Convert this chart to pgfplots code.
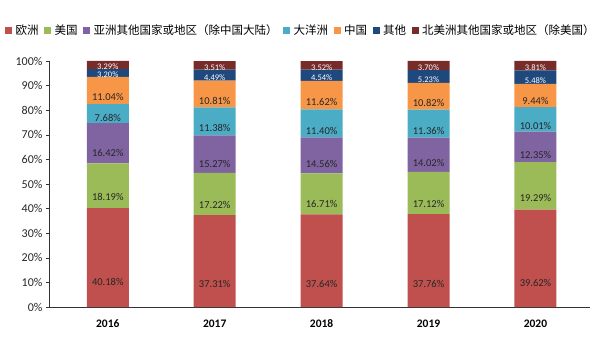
\documentclass[border=0pt]{standalone}
\usepackage{fontspec}
\setmainfont{Carlito}
\newfontfamily\cjk{Noto Sans CJK SC}
\usepackage{pgfplots}
\usepackage{pgfplotstable}
\pgfplotsset{compat=1.18}
\definecolor{cEU}{HTML}{C0504D}
\definecolor{cUS}{HTML}{9BBB59}
\definecolor{cAS}{HTML}{8064A2}
\definecolor{cOC}{HTML}{4BACC6}
\definecolor{cCN}{HTML}{F79646}
\definecolor{cOT}{HTML}{1F497D}
\definecolor{cNA}{HTML}{772C2A}
\pgfplotstableread{
x eu us as oc cn ot na
0 40.18 18.19 16.42 7.68 11.04 3.20 3.29
1 37.31 17.22 15.27 11.38 10.81 4.49 3.51
2 37.64 16.71 14.56 11.40 11.62 4.54 3.52
3 37.76 17.12 14.02 11.36 10.82 5.23 3.70
4 39.62 19.29 12.35 10.01 9.44 5.48 3.81
}\data
\pgfplotsset{
  /pgfplots/calculate offset/.code={
    \pgfkeys{/pgf/fpu=true,/pgf/fpu/output format=fixed}
    \pgfmathsetmacro\testmacro{\pgfplotspointmeta*0.615}
    \pgfkeys{/pgf/fpu=false}
  },
  nodes near coords vertically centered/.style={
    every node near coord/.append style={
      /pgfplots/calculate offset,
      yshift=-\testmacro pt
    }
  }
}
\begin{document}
\begin{tikzpicture}
\useasboundingbox (-49pt,-33pt) rectangle (551pt,307pt);
\begin{axis}[
  at={(0,0)}, anchor=south west,
  scale only axis,
  width=541pt, height=246pt,
  ybar stacked,
  bar width=42pt,
  xmin=-0.55, xmax=4.51,
  ymin=0, ymax=100,
  axis x line*=bottom,
  axis y line*=left,
  axis line style={black!80, line width=0.6pt},
  xtick={0,1,2,3,4},
  xticklabels={2016,2017,2018,2019,2020},
  xticklabel style={font=\fontsize{11.5}{13}\selectfont\bfseries, yshift=-6pt},
  x tick style={draw=none},
  ytick={0,10,...,100},
  yticklabel={\pgfmathprintnumber{\tick}\%},
  yticklabel style={font=\fontsize{12}{14}\selectfont, text=black!85},
  y tick style={black!80},
  tick align=outside,
  major tick length=3pt,
  /pgf/number format/assume math mode=true,
  point meta=rawy,
  nodes near coords={\pgfmathprintnumber[fixed,fixed zerofill,precision=2]{\pgfplotspointmeta}\%},
  nodes near coords vertically centered,
  every node near coord/.append style={font=\fontsize{10.5}{12}\selectfont, text=black!85, anchor=center, inner sep=0pt},
  legend columns=7,
  legend style={at={(0.464,1.126)}, anchor=center, draw=none, fill=none,
    font=\fontsize{11.5}{13}\selectfont\cjk,
    nodes={inner sep=0.5pt},
    /tikz/every odd column/.append style={column sep=3pt},
    /tikz/every even column/.append style={column sep=5pt}},
  legend image code/.code={\fill[#1] (0pt,-3.5pt) rectangle (7pt,3.5pt);},
  legend cell align=left,
  clip=false,
]
\addplot[fill=cEU, draw=none] table[x=x,y=eu]{\data};
\addlegendentry{欧洲}
\addplot[fill=cUS, draw=none] table[x=x,y=us]{\data};
\addlegendentry{美国}
\addplot[fill=cAS, draw=none] table[x=x,y=as]{\data};
\addlegendentry{亚洲其他国家或地区（除中国大陆）}
\addplot[fill=cOC, draw=none] table[x=x,y=oc]{\data};
\addlegendentry{大洋洲}
\addplot[fill=cCN, draw=none] table[x=x,y=cn]{\data};
\addlegendentry{中国}
\addplot[fill=cOT, draw=none, every node near coord/.append style={text=white, font=\fontsize{8.5}{9}\selectfont}] table[x=x,y=ot]{\data};
\addlegendentry{其他}
\addplot[fill=cNA, draw=none, every node near coord/.append style={text=white, font=\fontsize{8.5}{9}\selectfont}] table[x=x,y=na]{\data};
\addlegendentry{北美洲其他国家或地区（除美国）}
\end{axis}
\end{tikzpicture}
\end{document}
